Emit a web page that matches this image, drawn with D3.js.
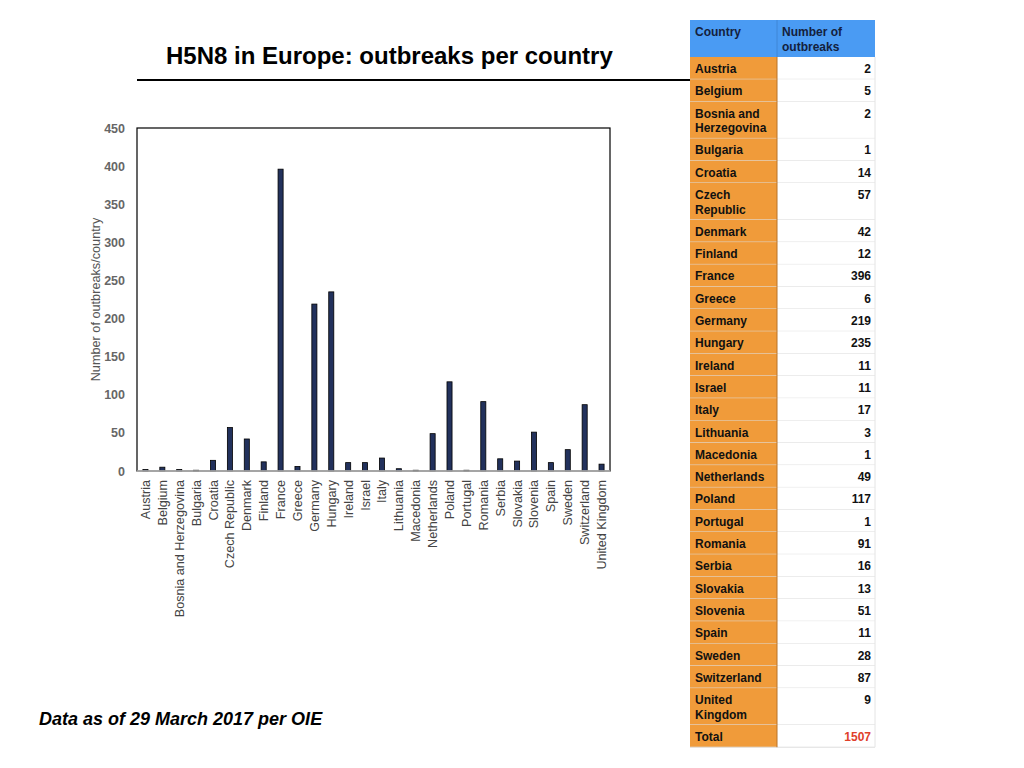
<!DOCTYPE html>
<html>
<head>
<meta charset="utf-8">
<script src="https://cdn.jsdelivr.net/npm/d3@7"></script>
<style>
  body { margin: 0; background: #fff; }
  svg { font-family: "Liberation Sans", Arial, sans-serif; display: block; }
</style>
</head>
<body>
<div id="chart"></div>
<script>
// Data
const countries = ['Austria', 'Belgium', 'Bosnia and Herzegovina', 'Bulgaria', 'Croatia',
  'Czech Republic', 'Denmark', 'Finland', 'France', 'Greece', 'Germany', 'Hungary',
  'Ireland', 'Israel', 'Italy', 'Lithuania', 'Macedonia', 'Netherlands', 'Poland',
  'Portugal', 'Romania', 'Serbia', 'Slovakia', 'Slovenia', 'Spain', 'Sweden',
  'Switzerland', 'United Kingdom']
const outbreaks = [2, 5, 2, 1, 14, 57, 42, 12, 396, 6, 219, 235, 11, 11, 17, 3, 1, 49,
  117, 1, 91, 16, 13, 51, 11, 28, 87, 9]
const yTicks = [0, 50, 100, 150, 200, 250, 300, 350, 400, 450]
const tableHeader = ['Country', 'Number of outbreaks']
const totalLabel = 'Total'
const totalValue = 1507

const dataset = countries.map((c, i) => ({ country: c, value: outbreaks[i] }))

const xAccessor = d => d.country
const yAccessor = d => d.value

// Dimensions
const dims = {
  width: 1024,
  height: 768,
  plot: { left: 137, right: 610, top: 128, bottom: 471 }
}

const svg = d3.select('#chart')
  .append('svg')
  .attr('width', dims.width)
  .attr('height', dims.height)

// Title + rule
svg.append('text')
  .text('H5N8 in Europe: outbreaks per country')
  .attr('x', 166)
  .attr('y', 64)
  .attr('font-size', 24)
  .attr('font-weight', 'bold')
  .attr('fill', '#000')

svg.append('line')
  .attr('x1', 137).attr('x2', 690)
  .attr('y1', 80).attr('y2', 80)
  .attr('stroke', '#000')
  .attr('stroke-width', 2)

// Scales
const xScale = d3.scaleBand()
  .domain(countries)
  .range([dims.plot.left, dims.plot.right])
  .paddingInner(0.7)
  .paddingOuter(0.35)

const yScale = d3.scaleLinear()
  .domain([0, 450])
  .range([dims.plot.bottom, dims.plot.top])

// Plot frame
svg.append('rect')
  .attr('x', dims.plot.left)
  .attr('y', dims.plot.top)
  .attr('width', dims.plot.right - dims.plot.left)
  .attr('height', dims.plot.bottom - dims.plot.top)
  .attr('fill', 'none')
  .attr('stroke', '#000')
  .attr('stroke-width', 1.2)

// Bars
svg.append('g')
  .selectAll('rect')
  .data(dataset)
  .join('rect')
  .attr('x', d => xScale(xAccessor(d)))
  .attr('width', xScale.bandwidth())
  .attr('y', d => yScale(yAccessor(d)))
  .attr('height', d => yScale(0) - yScale(yAccessor(d)))
  .attr('fill', '#22315c')
  .attr('stroke', '#000')
  .attr('stroke-width', 0.8)

svg.append('line')
  .attr('x1', dims.plot.left).attr('x2', dims.plot.right)
  .attr('y1', dims.plot.bottom).attr('y2', dims.plot.bottom)
  .attr('stroke', '#bbb')
  .attr('stroke-width', 1.5)

// Axes
const yAxis = d3.axisLeft(yScale)
  .tickValues(yTicks)
  .tickSize(0)
  .tickPadding(12)

const yAxisGroup = svg.append('g')
  .attr('transform', `translate(${dims.plot.left}, 0)`)
  .call(yAxis)
yAxisGroup.select('.domain').remove()
yAxisGroup.selectAll('text')
  .attr('font-size', 12.5)
  .attr('font-weight', 'bold')
  .attr('font-family', '"Liberation Sans", Arial, sans-serif')
  .attr('fill', '#666')

yAxisGroup.append('text')
  .text('Number of outbreaks/country')
  .attr('fill', '#555')
  .attr('font-size', 12.7)
  .attr('transform', `translate(${-37}, ${(dims.plot.top + dims.plot.bottom) / 2}) rotate(-90)`)
  .style('text-anchor', 'middle')

const xAxis = d3.axisBottom(xScale).tickSize(0).tickPadding(0)
const xAxisGroup = svg.append('g')
  .attr('transform', `translate(0, ${dims.plot.bottom})`)
  .call(xAxis)
xAxisGroup.select('.domain').remove()
xAxisGroup.selectAll('text')
  .attr('font-size', 12.6)
  .attr('font-family', '"Liberation Sans", Arial, sans-serif')
  .attr('fill', '#444')
  .attr('dy', null)
  .attr('y', 0)
  .attr('transform', 'translate(4.5, 9) rotate(-90)')
  .style('text-anchor', 'end')

// Caption
svg.append('text')
  .text('Data as of 29 March 2017 per OIE')
  .attr('x', 39)
  .attr('y', 725)
  .attr('font-size', 18)
  .attr('font-weight', 'bold')
  .attr('font-style', 'italic')
  .attr('fill', '#000')

// Table
const table = { x: 690, split: 777, right: 875, top: 20, headH: 37, line: 14.5, single: 22.3 }
const tg = svg.append('g')

const measure = svg.append('text').attr('font-size', 12).attr('font-weight', 'bold')
function wrap(str, maxW) {
  const words = str.split(' ')
  const lines = []
  let cur = ''
  words.forEach(w => {
    const test = cur ? cur + ' ' + w : w
    measure.text(test)
    if (cur && measure.node().getComputedTextLength() > maxW) {
      lines.push(cur)
      cur = w
    } else {
      cur = test
    }
  })
  lines.push(cur)
  return lines
}

// header
tg.append('rect')
  .attr('x', table.x).attr('y', table.top)
  .attr('width', table.right - table.x).attr('height', table.headH)
  .attr('fill', '#4a9bf3')
tg.append('line')
  .attr('x1', table.split).attr('x2', table.split)
  .attr('y1', table.top).attr('y2', table.top + table.headH)
  .attr('stroke', '#3f86d6')
;[table.x + 5, table.split + 5].forEach((hx, i) => {
  const t = tg.append('text')
    .attr('x', hx).attr('y', table.top + 16)
    .attr('font-size', 12).attr('font-weight', 'bold')
    .attr('fill', '#14213d')
  wrap(tableHeader[i], 70).forEach((ln, j) => {
    t.append('tspan').attr('x', hx).attr('dy', j ? table.line : 0).text(ln)
  })
})

const rows = dataset.map(d => ({ label: d.country, value: d.value, total: false }))
rows.push({ label: totalLabel, value: totalValue, total: true })

let yPos = table.top + table.headH
rows.forEach(r => {
  const lines = wrap(r.label, 72)
  const h = lines.length > 1 ? table.single + table.line : table.single
  tg.append('rect')
    .attr('x', table.x).attr('y', yPos)
    .attr('width', table.split - table.x).attr('height', h)
    .attr('fill', '#f09b3a')
  tg.append('rect')
    .attr('x', table.split).attr('y', yPos)
    .attr('width', table.right - table.split).attr('height', h)
    .attr('fill', '#fff')
  tg.append('line')
    .attr('x1', table.x).attr('x2', table.right)
    .attr('y1', yPos + h).attr('y2', yPos + h)
    .attr('stroke', '#ddd')
  const t = tg.append('text')
    .attr('y', yPos + 16)
    .attr('font-size', 12).attr('font-weight', 'bold')
    .attr('fill', '#111')
  lines.forEach((ln, j) => {
    t.append('tspan').attr('x', table.x + 5).attr('dy', j ? table.line : 0).text(ln)
  })
  tg.append('text')
    .text(r.value)
    .attr('x', table.right - 4).attr('y', yPos + 16)
    .attr('font-size', 12).attr('font-weight', 'bold')
    .attr('fill', r.total ? '#e0402a' : '#111')
    .style('text-anchor', 'end')
  yPos += h
})
tg.append('line')
  .attr('x1', table.split).attr('x2', table.split)
  .attr('y1', table.top + table.headH).attr('y2', yPos)
  .attr('stroke', '#b87328')
tg.append('line')
  .attr('x1', table.right).attr('x2', table.right)
  .attr('y1', table.top + table.headH).attr('y2', yPos)
  .attr('stroke', '#e4e4e4')
measure.remove()
</script>
</body>
</html>
